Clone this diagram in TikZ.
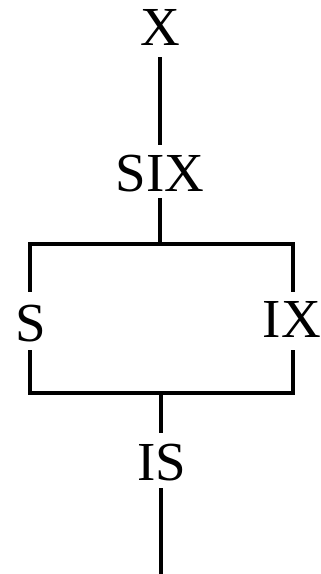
\documentclass[tikz,border=0pt]{standalone}
\usepackage{fontspec}
\setmainfont{Liberation Serif}
\begin{document}
\begin{tikzpicture}[x=1pt,y=-1pt,
  lbl/.style={font=\fontsize{55}{60}\selectfont, inner sep=0pt, anchor=base, text height=38pt, text depth=0pt},
  conn/.style={line width=3.6pt}]
\useasboundingbox (0,0) rectangle (321,574);
\node[lbl] (X) at (160,45) {X};
\node[lbl] (SIX) at (160,191) {SIX};
\node[lbl] (S) at (31,341) {S};
\node[lbl] (IX) at (292,337) {IX};
\node[lbl] (IS) at (162,480) {IS};
\coordinate (TL) at (30,244);
\coordinate (TR) at (293,244);
\coordinate (BL) at (30,393);
\coordinate (BR) at (293,393);
\coordinate (bot) at (161,574);
\draw[conn, shorten <=12pt, shorten >=8pt] (X.south) -- (SIX.north);
\draw[conn, shorten <=7pt] (SIX.south) -- (SIX.south |- TL);
\draw[conn, shorten <=11pt, shorten >=7pt] (S.north -| TL) -- (TL) -- (TR) -- (IX.north -| TR);
\draw[conn, shorten <=9pt, shorten >=13pt] (S.south -| BL) -- (BL) -- (BR) -- (IX.south -| BR);
\draw[conn, shorten >=9pt] (BL -| bot) -- (IS.north -| bot);
\draw[conn, shorten <=8pt] (IS.south -| bot) -- (bot);
\end{tikzpicture}
\end{document}
